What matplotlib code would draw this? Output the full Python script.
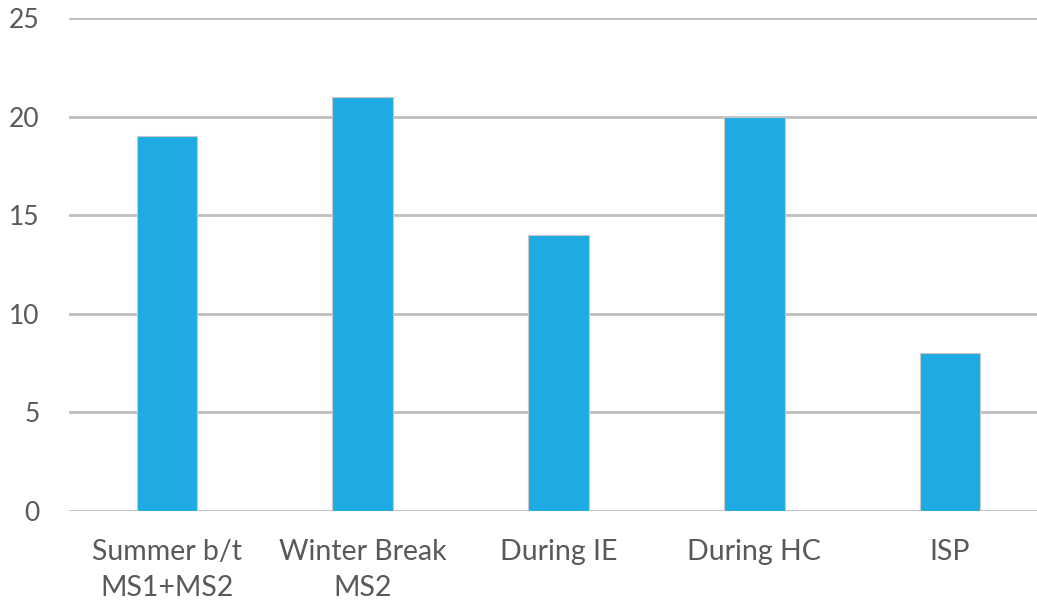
import matplotlib
matplotlib.use("Agg")
import matplotlib.pyplot as plt

categories = ["Summer b/t\nMS1+MS2", "Winter Break\nMS2", "During IE", "During HC", "ISP"]
values = [19, 21, 14, 20, 8]
yticks = [0, 5, 10, 15, 20, 25]

plt.rcParams['font.family'] = ['Lato', 'DejaVu Sans']

fig = plt.figure(figsize=(10.37, 6.03), dpi=100)
ax = fig.add_axes([69/1037, 1 - 511/603, (1048 - 69)/1037, (511 - 18)/603])

x = range(len(categories))
ax.bar(x, values, width=0.31, color="#1EABE3", edgecolor="#C8C8C8", linewidth=0.8, zorder=3)

ax.set_xlim(-0.5, len(categories) - 0.5)
ax.set_ylim(0, 25)
ax.set_yticks(yticks)
ax.set_yticklabels([str(t) for t in yticks])
ax.set_xticks(list(x))
ax.set_xticklabels(categories, linespacing=1.5)

ax.yaxis.grid(True, color="#BFBFBF", linewidth=2, zorder=0)
ax.set_axisbelow(True)
for s in ax.spines.values():
    s.set_visible(False)
ax.tick_params(axis='both', length=0, labelsize=20.5, labelcolor="#595959")
ax.tick_params(axis='y', pad=21)
ax.tick_params(axis='x', pad=20)
for lbl in ax.get_yticklabels():
    lbl.set_fontsize(19)

fig.savefig("out.png", dpi=100)
